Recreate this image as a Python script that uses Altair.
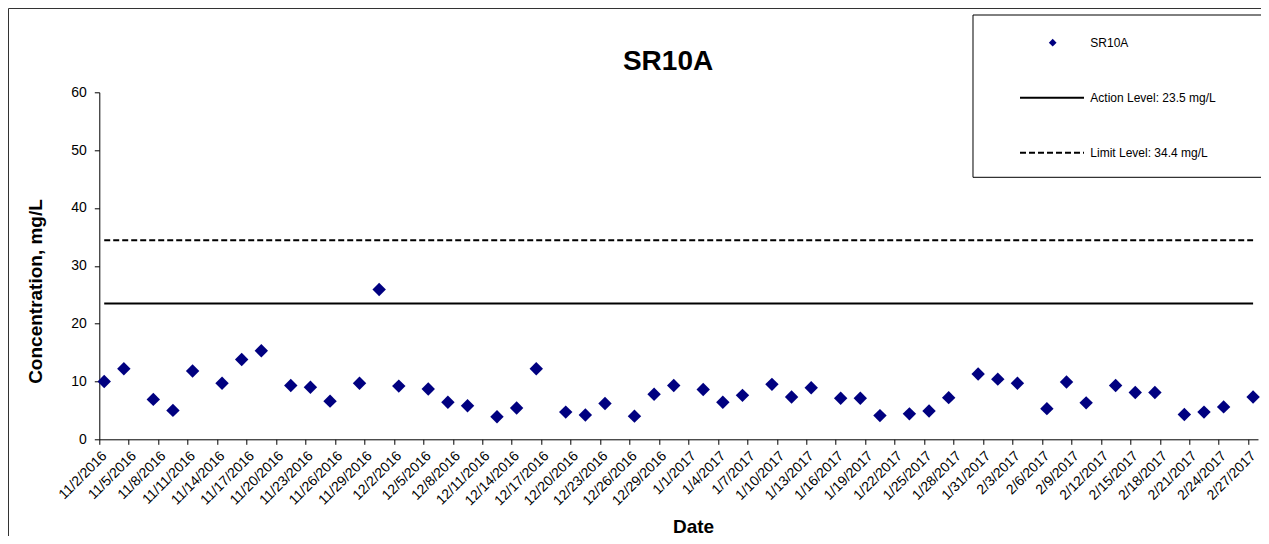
import altair as alt
import pandas as pd

# ---------------- data ----------------
sample_dates = [
    "2016-11-02", "2016-11-04", "2016-11-07", "2016-11-09", "2016-11-11",
    "2016-11-14", "2016-11-16", "2016-11-18", "2016-11-21", "2016-11-23",
    "2016-11-25", "2016-11-28", "2016-11-30", "2016-12-02", "2016-12-05",
    "2016-12-07", "2016-12-09", "2016-12-12", "2016-12-14", "2016-12-16",
    "2016-12-19", "2016-12-21", "2016-12-23", "2016-12-26", "2016-12-28",
    "2016-12-30", "2017-01-02", "2017-01-04", "2017-01-06", "2017-01-09",
    "2017-01-11", "2017-01-13", "2017-01-16", "2017-01-18", "2017-01-20",
    "2017-01-23", "2017-01-25", "2017-01-27", "2017-01-30", "2017-02-01",
    "2017-02-03", "2017-02-06", "2017-02-08", "2017-02-10", "2017-02-13",
    "2017-02-15", "2017-02-17", "2017-02-20", "2017-02-22", "2017-02-24",
    "2017-02-27",
]
concentrations = [
    10.0, 12.2, 6.9, 5.0, 11.8,
    9.7, 13.8, 15.3, 9.3, 9.0,
    6.6, 9.7, 25.9, 9.2, 8.7,
    6.4, 5.8, 3.9, 5.4, 12.2,
    4.7, 4.2, 6.2, 4.0, 7.8,
    9.3, 8.6, 6.4, 7.6, 9.5,
    7.3, 8.9, 7.1, 7.1, 4.1,
    4.4, 4.9, 7.2, 11.3, 10.4,
    9.7, 5.3, 9.9, 6.3, 9.3,
    8.1, 8.1, 4.3, 4.7, 5.6,
    7.3,
]
ACTION_LEVEL = 23.5
LIMIT_LEVEL = 34.4
series_name = "SR10A"
legend_labels = ["SR10A", "Action Level: 23.5 mg/L", "Limit Level: 34.4 mg/L"]
x_domain = ["2016-11-02", "2017-02-28"]
tick_dates = [d.strftime("%Y-%m-%d") for d in pd.date_range("2016-11-02", "2017-02-27", freq="3D")]
y_ticks = [0, 10, 20, 30, 40, 50, 60]

FONT = "Liberation Sans"


def ms(d):
    return int(pd.Timestamp(d, tz="UTC").timestamp() * 1000)


df = pd.DataFrame({"date": sample_dates, "value": concentrations})
one = pd.DataFrame({"k": [0]})

base = alt.Chart(df).transform_calculate(
    t="time(utcParse(datum.date, '%Y-%m-%d')) + 43200000"
)

x_enc = alt.X(
    "t:T",
    scale=alt.Scale(type="utc", domain=[ms(x_domain[0]), ms(x_domain[1])], nice=False),
    axis=alt.Axis(
        values=[ms(d) for d in tick_dates],
        tickCount=100,
        labelExpr="utcFormat(datum.value, '%-m/%-d/%Y')",
        labelAngle=315,
        labelAlign="right",
        labelBaseline="middle",
        labelFontSize=14,
        labelFont=FONT,
        labelColor="black",
        labelPadding=9,
        labelOffset=5,
        labelOverlap=False,
        labelFlush=False,
        labelBound=False,
        tickSize=5,
        tickColor="black",
        domainColor="black",
        grid=False,
        title="Date",
        titleFont=FONT,
        titleFontSize=19,
        titleFontWeight="bold",
        titleColor="black",
        titleX=593.7,
        titleY=87,
        titleAlign="center",
        titleBaseline="middle",
    ),
)

y_enc = alt.Y(
    "value:Q",
    scale=alt.Scale(domain=[0, 60], nice=False, zero=True),
    axis=alt.Axis(
        values=y_ticks,
        labelFontSize=14,
        labelFont=FONT,
        labelColor="black",
        labelPadding=8,
        tickSize=5,
        tickColor="black",
        domainColor="black",
        grid=False,
        title="Concentration, mg/L",
        titleFont=FONT,
        titleFontSize=19,
        titleFontWeight="bold",
        titleColor="black",
        titleX=-64.3,
        titleY=198.7,
        titleAngle=270,
        titleAlign="center",
        titleBaseline="middle",
    ),
)

action_line = base.mark_line(color="black", strokeWidth=2).encode(
    x="t:T", y=alt.datum(ACTION_LEVEL)
)
limit_line = base.mark_line(color="black", strokeWidth=2, strokeDash=[6, 3]).encode(
    x="t:T", y=alt.datum(LIMIT_LEVEL)
)
points = base.mark_point(
    shape="diamond", filled=True, color="#000080", size=180, opacity=1
).encode(x=x_enc, y=y_enc, tooltip=["date:N", "value:Q"])

# ---- outer chart frame (top and left edges visible in the window) ----
frame_top = alt.Chart(one).mark_rule(color="#333333", strokeWidth=1).encode(
    x=alt.value(-90.8), x2=alt.value(1175), y=alt.value(-83.8)
)
frame_left = alt.Chart(one).mark_rule(color="#333333", strokeWidth=1).encode(
    x=alt.value(-90.8), y=alt.value(-83.8), y2=alt.value(460)
)

# ---- legend box ----
leg_box = alt.Chart(one).mark_rect(fill="white", stroke="black", strokeWidth=1).encode(
    x=alt.value(873.7), x2=alt.value(1166.7), y=alt.value(-77.3), y2=alt.value(85)
)
leg_point = alt.Chart(one).mark_point(
    shape="diamond", filled=True, color="#000080", size=60, opacity=1
).encode(x=alt.value(953.4), y=alt.value(-49.6))
leg_action = alt.Chart(one).mark_rule(color="black", strokeWidth=2).encode(
    x=alt.value(920.7), x2=alt.value(984.7), y=alt.value(5.4)
)
leg_limit = alt.Chart(one).mark_rule(color="black", strokeWidth=2, strokeDash=[6, 3]).encode(
    x=alt.value(920.7), x2=alt.value(984.7), y=alt.value(60.4)
)
leg_texts = [
    alt.Chart(one).mark_text(
        align="left", baseline="middle", fontSize=12, font=FONT, color="black"
    ).encode(x=alt.value(991.0), y=alt.value(yv), text=alt.value(lbl))
    for lbl, yv in zip(legend_labels, [-49.6, 5.4, 60.4])
]

chart = alt.layer(
    frame_top, frame_left, action_line, limit_line, points,
    leg_box, leg_point, leg_action, leg_limit, *leg_texts
).properties(
    width=1158.7,
    height=347,
    autosize=alt.AutoSizeParams(type="none"),
    padding={"left": 91.3, "top": 84.3, "right": 3, "bottom": 96.7},
    title=alt.TitleParams(
        "SR10A",
        font=FONT,
        fontSize=28,
        fontWeight="bold",
        color="black",
        anchor="middle",
        frame="group",
        dx=-10.6,
        offset=0,
        dy=89.7,
        baseline="alphabetic",
    ),
    background="white",
).configure_view(stroke=None)

chart.save("out.html", embed_options={"renderer": "svg", "actions": False})
